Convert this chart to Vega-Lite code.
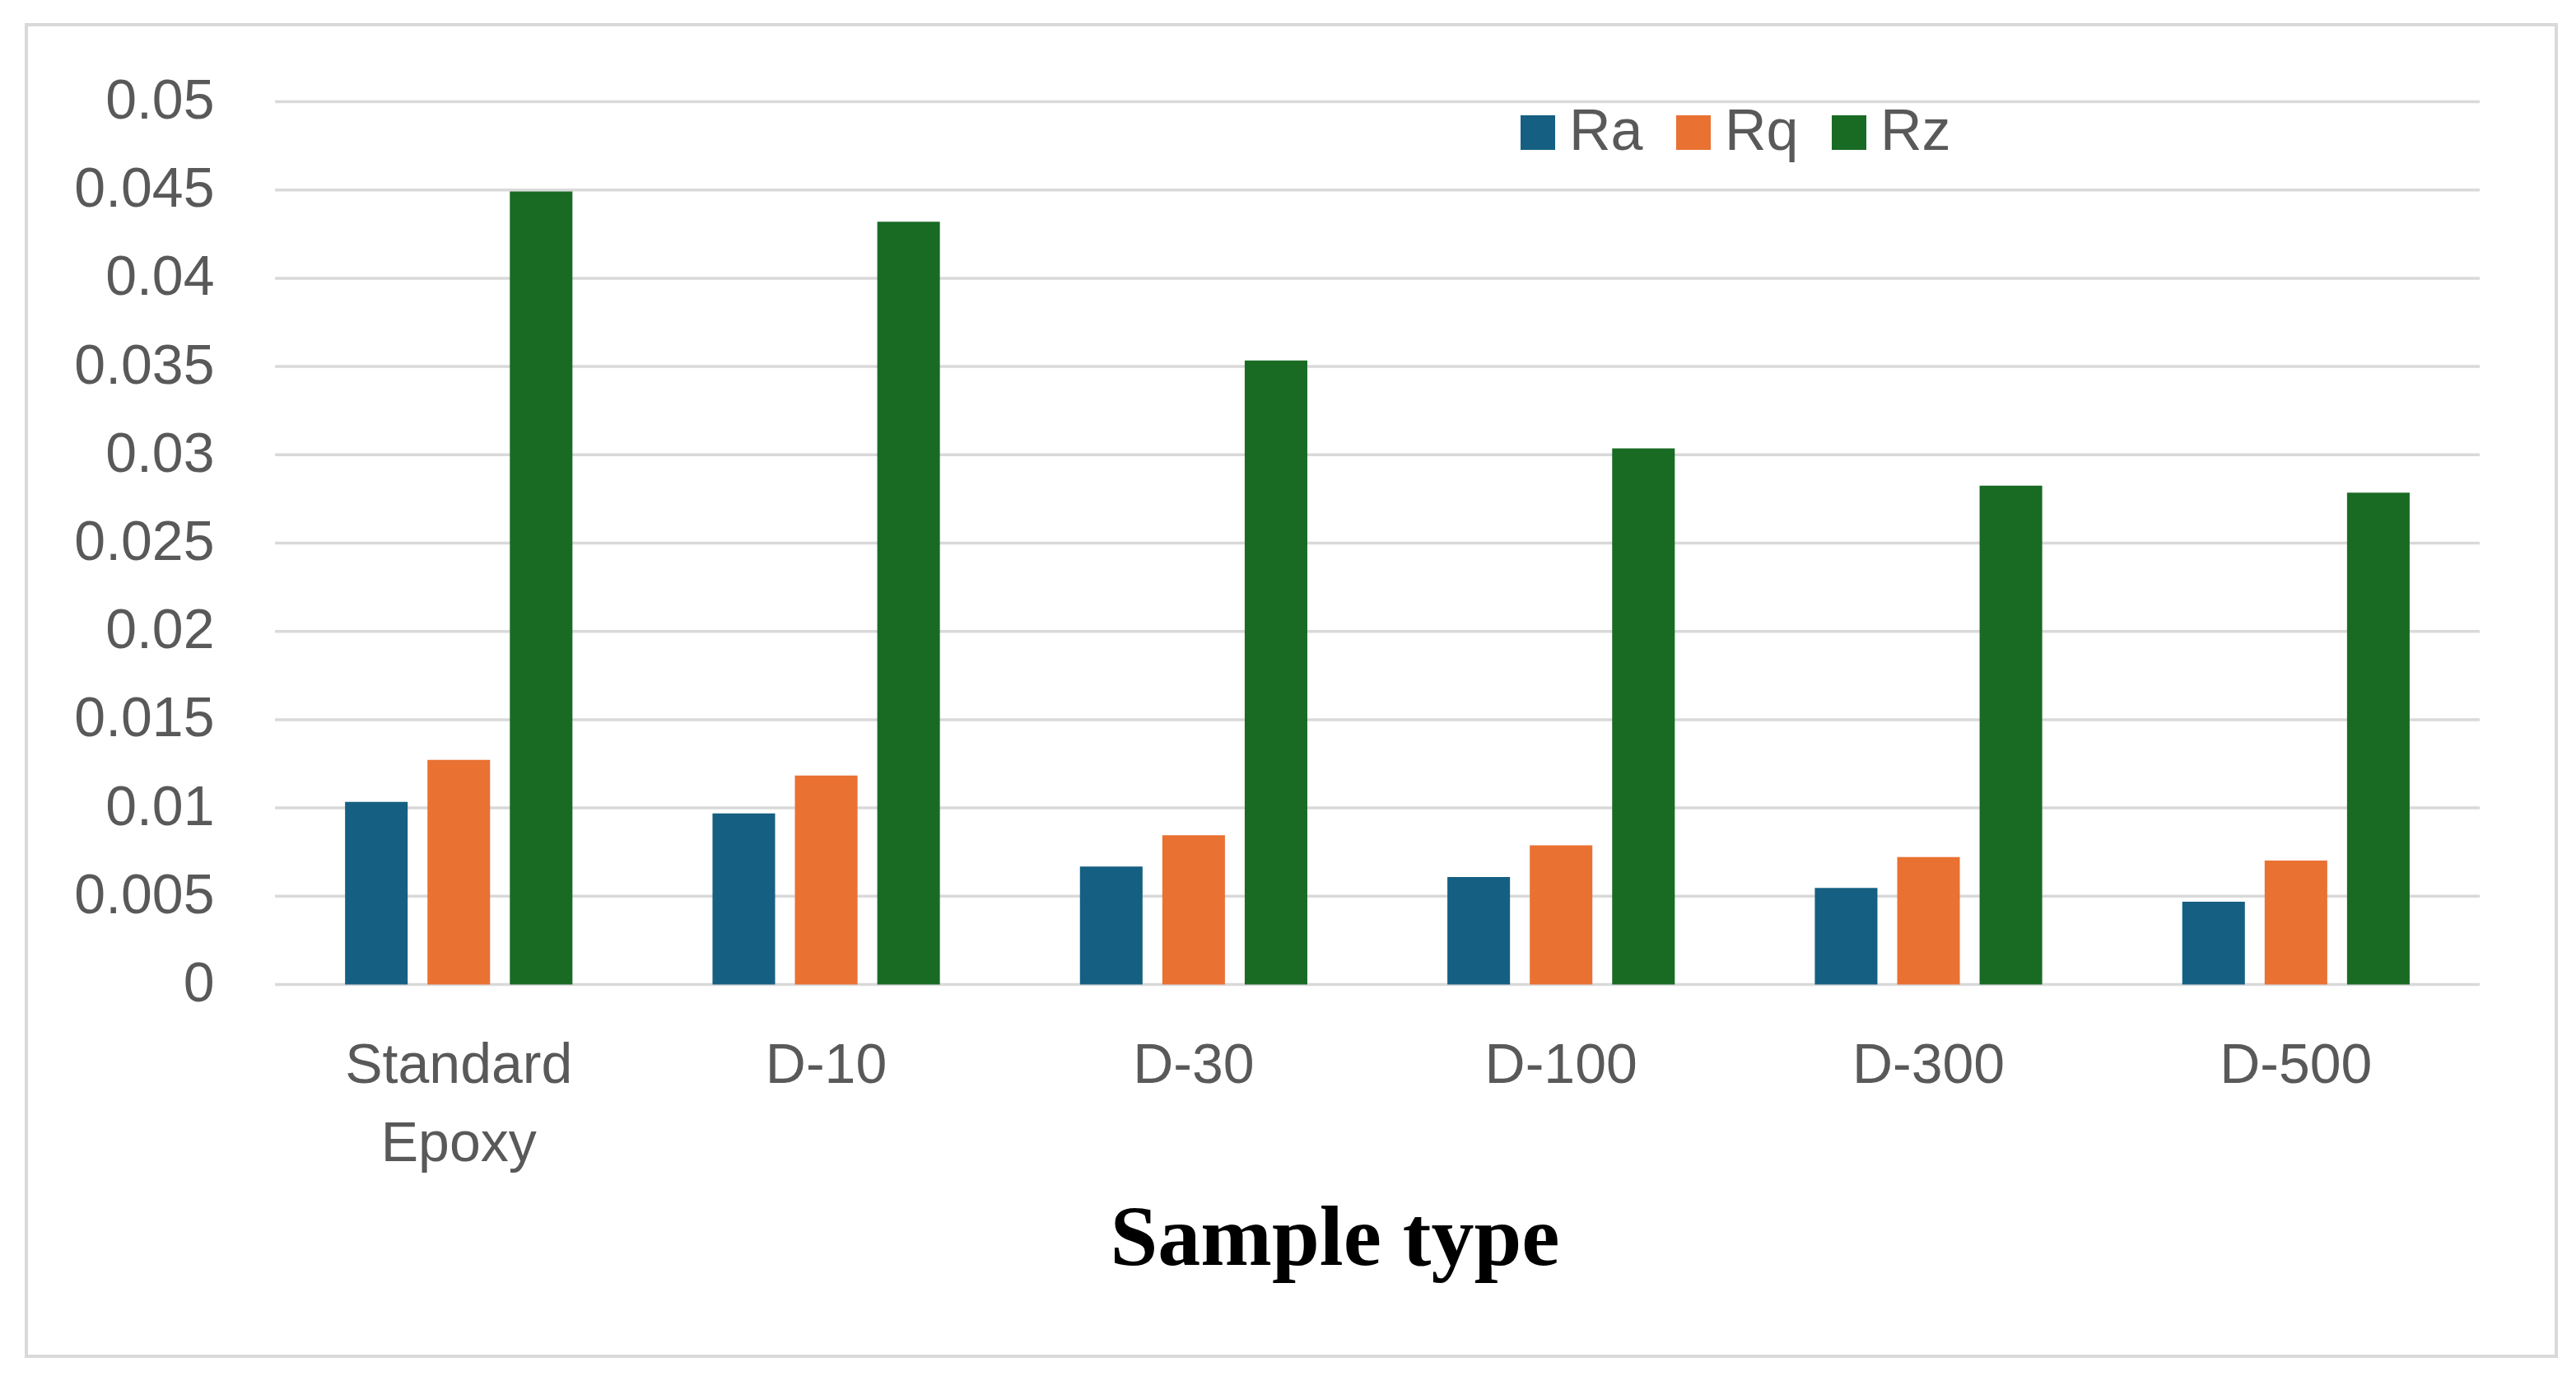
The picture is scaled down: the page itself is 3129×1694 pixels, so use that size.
{
  "$schema": "https://vega.github.io/schema/vega-lite/v6.json",
  "autosize": {"type": "none"},
  "width": 3073,
  "height": 1617,
  "padding": {"left": 32, "top": 30, "right": 24, "bottom": 47},
  "background": "white",
  "config": {
    "view": {"stroke": "#d9d9d9", "strokeWidth": 4},
    "font": "Liberation Sans"
  },
  "datasets": {
    "roughness": [
      {"sample": "Standard Epoxy", "param": "Ra", "value": 0.01034},
      {"sample": "Standard Epoxy", "param": "Rq", "value": 0.01272},
      {"sample": "Standard Epoxy", "param": "Rz", "value": 0.04492},
      {"sample": "D-10", "param": "Ra", "value": 0.00969},
      {"sample": "D-10", "param": "Rq", "value": 0.01184},
      {"sample": "D-10", "param": "Rz", "value": 0.0432},
      {"sample": "D-30", "param": "Ra", "value": 0.00668},
      {"sample": "D-30", "param": "Rq", "value": 0.00845},
      {"sample": "D-30", "param": "Rz", "value": 0.03534},
      {"sample": "D-100", "param": "Ra", "value": 0.00609},
      {"sample": "D-100", "param": "Rq", "value": 0.00788},
      {"sample": "D-100", "param": "Rz", "value": 0.03036},
      {"sample": "D-300", "param": "Ra", "value": 0.00547},
      {"sample": "D-300", "param": "Rq", "value": 0.00722},
      {"sample": "D-300", "param": "Rz", "value": 0.02825},
      {"sample": "D-500", "param": "Ra", "value": 0.00469},
      {"sample": "D-500", "param": "Rq", "value": 0.00702},
      {"sample": "D-500", "param": "Rz", "value": 0.02786}
    ],
    "ticks": [
      {"tick": 0}, {"tick": 0.005}, {"tick": 0.01}, {"tick": 0.015}, {"tick": 0.02},
      {"tick": 0.025}, {"tick": 0.03}, {"tick": 0.035}, {"tick": 0.04}, {"tick": 0.045}, {"tick": 0.05}
    ]
  },
  "layer": [
    {
      "data": {"name": "ticks"},
      "mark": {"type": "rule", "color": "#d9d9d9", "strokeWidth": 3.5},
      "encoding": {
        "y": {"field": "tick", "type": "quantitative"},
        "x": {"datum": "Standard Epoxy", "bandPosition": 0},
        "x2": {"datum": "D-500", "bandPosition": 1}
      }
    },
    {
      "data": {"name": "roughness"},
      "mark": {"type": "bar"},
      "encoding": {
        "x": {
          "field": "sample",
          "type": "nominal",
          "sort": ["Standard Epoxy", "D-10", "D-30", "D-100", "D-300", "D-500"],
          "scale": {
            "domain": ["Standard Epoxy", "D-10", "D-30", "D-100", "D-300", "D-500"],
            "paddingInner": 0,
            "paddingOuter": 0.4426,
            "align": 0.7646
          },
          "axis": {
            "orient": "bottom",
            "offset": -451.5,
            "domain": false,
            "ticks": false,
            "grid": false,
            "labelAngle": 0,
            "labelAlign": "center",
            "labelPadding": 99,
            "labelFontSize": 68,
            "labelColor": "#595959",
            "labelLimit": 0,
            "labelLineHeight": 95,
            "labelExpr": "datum.value == 'Standard Epoxy' ? ['Standard', 'Epoxy'] : datum.label",
            "title": "Sample type",
            "titleFont": "Liberation Serif",
            "titleFontWeight": "bold",
            "titleFontSize": 104,
            "titleColor": "#000000",
            "titleX": 1589,
            "titleY": 340,
            "titleBaseline": "alphabetic",
            "titleAlign": "center"
          }
        },
        "xOffset": {
          "field": "param",
          "type": "nominal",
          "scale": {"domain": ["Ra", "Rq", "Rz"], "paddingInner": 0.24, "paddingOuter": 0.85}
        },
        "y": {
          "field": "value",
          "type": "quantitative",
          "scale": {"domain": [-0.021059, 0.054361], "nice": false, "zero": false},
          "axis": {
            "orient": "left",
            "offset": -228,
            "domain": false,
            "ticks": false,
            "grid": false,
            "labelPadding": 0,
            "values": [0, 0.005, 0.01, 0.015, 0.02, 0.025, 0.03, 0.035, 0.04, 0.045, 0.05],
            "format": ".3~f",
            "labelFontSize": 68,
            "labelColor": "#595959",
            "labelLimit": 0,
            "title": null
          }
        },
        "color": {
          "field": "param",
          "type": "nominal",
          "scale": {"domain": ["Ra", "Rq", "Rz"], "range": ["#156082", "#E97132", "#196B24"]},
          "legend": {
            "orient": "none",
            "legendX": 1801,
            "legendY": 96,
            "direction": "horizontal",
            "title": null,
            "symbolType": "square",
            "symbolSize": 1764,
            "symbolStrokeWidth": 0,
            "labelFontSize": 70,
            "labelColor": "#595959",
            "labelOffset": 3,
            "columnPadding": 26,
            "padding": 0
          }
        }
      }
    }
  ]
}
